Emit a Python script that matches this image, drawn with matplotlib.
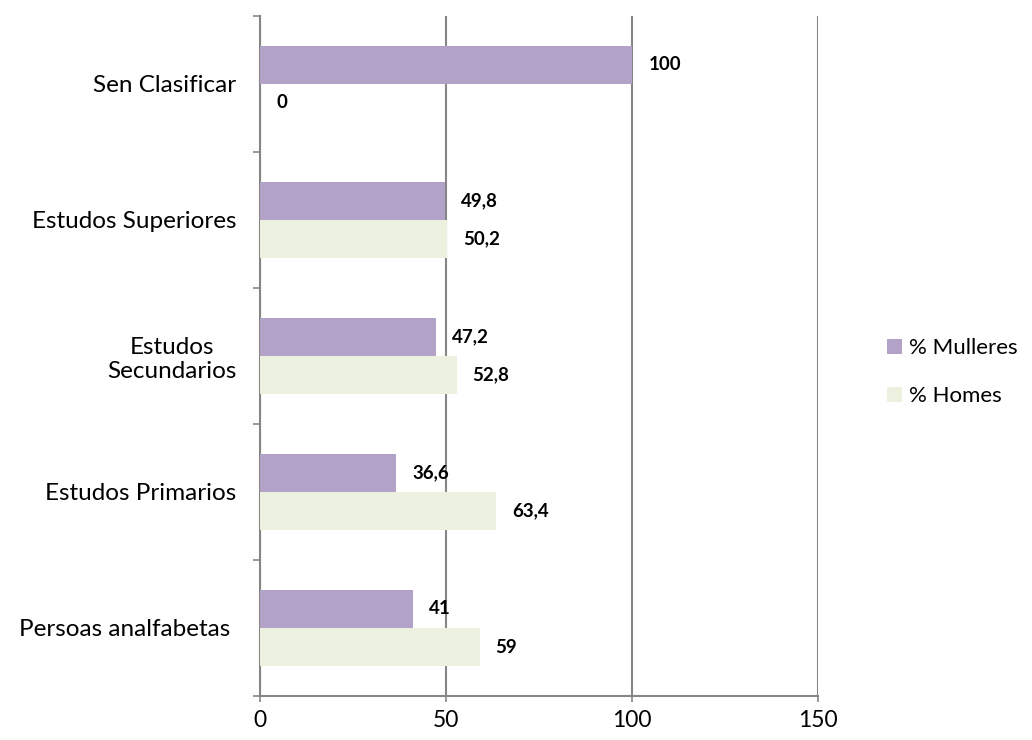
import matplotlib.pyplot as plt
import numpy as np

plt.rcParams['font.family'] = ['Lato', 'DejaVu Sans']

# Datos por nivel de estudos (de abaixo cara arriba)
categorias = ['Persoas analfabetas ', 'Estudos Primarios', 'Estudos\nSecundarios',
              'Estudos Superiores', 'Sen Clasificar']
mulleres = [41, 36.6, 47.2, 49.8, 100]
homes = [59, 63.4, 52.8, 50.2, 0]

cor_mulleres = '#B3A2C7'
cor_homes = '#EBF1DE'
cor_grella = '#868686'

fig = plt.figure(figsize=(10.32, 7.4), dpi=100)
ax = fig.add_axes([0.252, 0.0595, 0.541, 0.919])

y = np.arange(len(categorias))
alto = 0.28
b1 = ax.barh(y + alto / 2, mulleres, height=alto, color=cor_mulleres, label='% Mulleres', zorder=3)
b2 = ax.barh(y - alto / 2, homes, height=alto, color=cor_homes, label='% Homes', zorder=3)

def etiqueta(v):
    return ('%g' % v).replace('.', ',')

for barras, valores in ((b1, mulleres), (b2, homes)):
    for b, v in zip(barras, valores):
        ax.annotate(etiqueta(v), (v, b.get_y() + b.get_height() / 2),
                    xytext=(16, 0), textcoords='offset pixels',
                    ha='left', va='center', fontsize=13.5, fontweight='bold', zorder=4)

ax.set_xlim(0, 150)
ax.set_ylim(-0.5, len(categorias) - 0.5)
ax.set_xticks([0, 50, 100, 150])
ax.tick_params(axis='x', labelsize=16.5, length=4, color=cor_grella, width=1.2, pad=6)
ax.xaxis.grid(True, color=cor_grella, linewidth=1.5, zorder=0)

ax.set_yticks(y)
ax.set_yticklabels(categorias, fontsize=17.5, multialignment='center')
ax.set_yticks(np.arange(-0.5, len(categorias)), minor=True)
ax.tick_params(axis='y', which='major', length=0, pad=17)
ax.tick_params(axis='y', which='minor', length=5, color=cor_grella, width=1.2)

for lado in ('top', 'right'):
    ax.spines[lado].set_visible(False)
for lado in ('left', 'bottom'):
    ax.spines[lado].set_color(cor_grella)
    ax.spines[lado].set_linewidth(1.5)

fig.legend(loc='center left', bbox_to_anchor=(0.847, 0.497), frameon=False,
           fontsize=16, handlelength=0.65, handleheight=0.65, labelspacing=1.25,
           handletextpad=0.3, borderaxespad=0.2)

fig.savefig('out.png', dpi=100)
